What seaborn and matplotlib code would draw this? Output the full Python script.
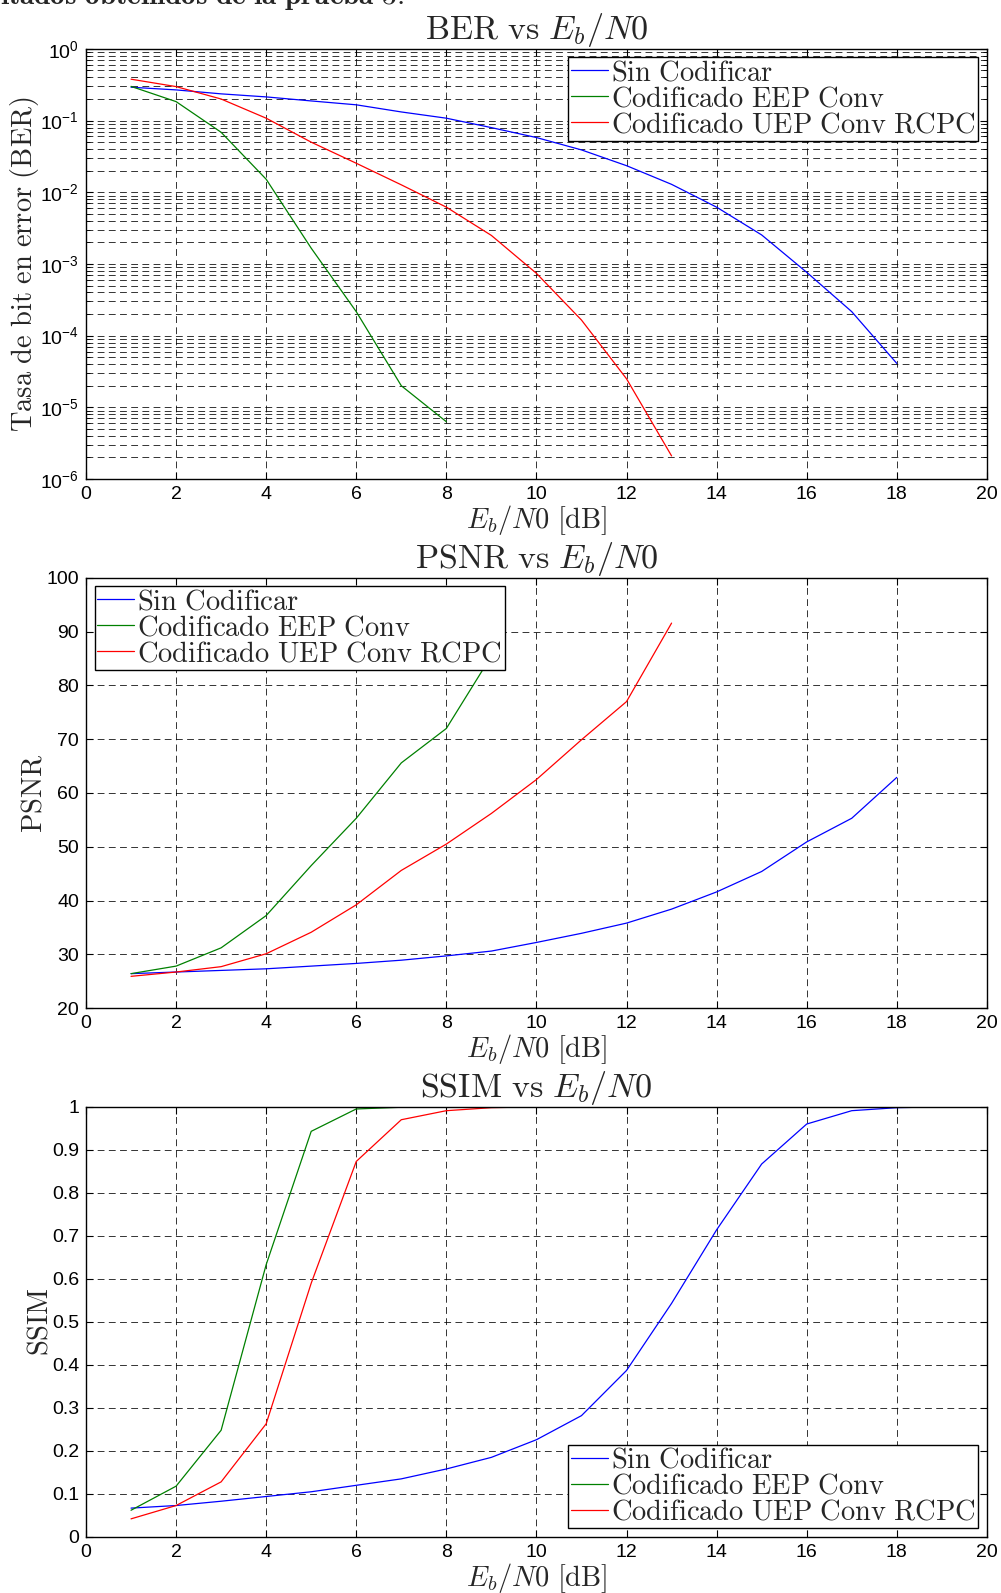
import numpy as np
import pandas as pd
import seaborn as sns
import matplotlib
matplotlib.use('Agg')
import matplotlib.pyplot as plt
from matplotlib.ticker import FormatStrFormatter, LogLocator, NullFormatter

# valores (Eb/N0 en dB)
ebn0_sin = list(range(1, 19))
ebn0_eep = list(range(1, 9))
ebn0_uep = list(range(1, 14))

ber_sin = [0.292, 0.268, 0.236, 0.214, 0.188, 0.166, 0.132, 0.108, 0.0798, 0.058,
           0.039, 0.0235, 0.0129, 0.0062, 0.00254, 0.000765, 0.000216, 0.000041]
ber_eep = [0.300, 0.184, 0.0687, 0.0152, 0.00166, 0.000216, 0.00002, 0.0000063]
ber_uep = [0.378, 0.298, 0.200, 0.108, 0.050, 0.0254, 0.0127, 0.0062, 0.0025,
           0.00074, 0.000165, 0.000025, 0.0000021]

psnr_x_sin = list(range(1, 19))
psnr_x_eep = list(range(1, 10))
psnr_x_uep = list(range(1, 14))
psnr_sin = [26.4, 26.7, 27.0, 27.3, 27.8, 28.3, 28.9, 29.7, 30.6, 32.2, 33.9, 35.8,
            38.4, 41.6, 45.4, 50.9, 55.3, 62.9]
psnr_eep = [26.4, 27.8, 31.2, 37.2, 46.5, 55.3, 65.6, 72.0, 85.5]
psnr_uep = [25.9, 26.7, 27.7, 30.1, 34.1, 39.2, 45.6, 50.5, 56.2, 62.5, 69.9, 77.0, 91.6]

ssim_x = list(range(1, 21))
ssim_sin = [0.067, 0.073, 0.083, 0.094, 0.105, 0.120, 0.135, 0.158, 0.185, 0.226,
            0.282, 0.387, 0.543, 0.714, 0.867, 0.960, 0.991, 0.998, 1.0, 1.0]
ssim_eep = [0.062, 0.118, 0.248, 0.633, 0.943, 0.995, 0.999, 1.0, 1.0, 1.0,
            1.0, 1.0, 1.0, 1.0, 1.0, 1.0, 1.0, 1.0, 1.0, 1.0]
ssim_uep = [0.042, 0.073, 0.128, 0.263, 0.59, 0.873, 0.970, 0.991, 0.998, 1.0,
            1.0, 1.0, 1.0, 1.0, 1.0, 1.0, 1.0, 1.0, 1.0, 1.0]

labels = [r'$\mathrm{Sin\ Codificar}$', r'$\mathrm{Codificado\ EEP\ Conv}$',
          r'$\mathrm{Codificado\ UEP\ Conv\ RCPC}$']
colors = ['#0000ff', '#008000', '#ff0000']
xlabel = r'$E_b/N0\ \mathrm{[dB]}$'

sns.set_style('ticks')
plt.rcParams['font.family'] = ['Liberation Sans', 'DejaVu Sans']
plt.rcParams['mathtext.fontset'] = 'cm'
plt.rcParams['xtick.direction'] = 'in'
plt.rcParams['ytick.direction'] = 'in'
plt.rcParams['xtick.top'] = True
plt.rcParams['ytick.right'] = True
plt.rcParams['xtick.labelsize'] = 14
plt.rcParams['ytick.labelsize'] = 14
plt.rcParams['axes.edgecolor'] = 'k'
plt.rcParams['axes.linewidth'] = 1.0


def style_axes(ax, title, ylabel, leg_loc):
    ax.set_xlim(0, 20)
    ax.set_xticks(range(0, 21, 2))
    ax.set_title(title, fontsize=24.5, pad=3)
    ax.set_xlabel(xlabel, fontsize=20.5, labelpad=0)
    ax.set_ylabel(ylabel, fontsize=20.5, labelpad=-1)
    ax.tick_params(which='both', color='k', labelcolor='k')
    ax.tick_params(which='major', length=5, width=0.8, pad=5)
    ax.tick_params(which='minor', length=3, width=0.6)
    ax.grid(True, which='major', color='k', linestyle=(0, (7, 4.5)), linewidth=0.7, alpha=0.8)
    leg = ax.legend(loc=leg_loc, fancybox=False, edgecolor='k', framealpha=1,
                    fontsize=20.5, handlelength=1.3, handletextpad=0.1,
                    labelspacing=0.0, borderpad=0.1, borderaxespad=0.3)
    leg.get_frame().set_linewidth(1.0)


def draw(ax, xs, ys):
    for x, y, c, lab in zip(xs, ys, colors, labels):
        sns.lineplot(x=x, y=y, color=c, label=lab, ax=ax, linewidth=0.9)


fig = plt.figure(figsize=(10.01, 15.93), dpi=100)
ax1 = fig.add_axes([0.0859, 0.6993, 0.900, 0.270])
ax2 = fig.add_axes([0.0859, 0.3672, 0.900, 0.270])
ax3 = fig.add_axes([0.0859, 0.0352, 0.900, 0.270])

# BER
draw(ax1, [ebn0_sin, ebn0_eep, ebn0_uep], [ber_sin, ber_eep, ber_uep])
ax1.set_yscale('log')
ax1.set_ylim(1e-6, 1)
ax1.yaxis.set_major_locator(LogLocator(base=10, numticks=10))
ax1.yaxis.set_minor_locator(LogLocator(base=10, subs=np.arange(2, 10), numticks=20))
ax1.yaxis.set_minor_formatter(NullFormatter())
style_axes(ax1, r'$\mathrm{BER\ vs\ }E_b/N0$', r'$\mathrm{Tasa\ de\ bit\ en\ error\ (BER)}$', 'upper right')
ax1.grid(True, which='minor', axis='y', color='k', linestyle=(0, (7, 4.5)), linewidth=0.7, alpha=0.8)

# PSNR
draw(ax2, [psnr_x_sin, psnr_x_eep, psnr_x_uep], [psnr_sin, psnr_eep, psnr_uep])
ax2.set_ylim(20, 100)
ax2.set_yticks(range(20, 101, 10))
style_axes(ax2, r'$\mathrm{PSNR\ vs\ }E_b/N0$', r'$\mathrm{PSNR}$', 'upper left')

# SSIM
draw(ax3, [ssim_x, ssim_x, ssim_x], [ssim_sin, ssim_eep, ssim_uep])
ax3.set_ylim(0, 1)
ax3.set_yticks(np.arange(0, 1.01, 0.1))
ax3.yaxis.set_major_formatter(FormatStrFormatter('%g'))
style_axes(ax3, r'$\mathrm{SSIM\ vs\ }E_b/N0$', r'$\mathrm{SSIM}$', 'lower right')

# texto del documento cortado arriba
fig.text(0.0, 1 - 4 / 1593, r'$\mathbf{ltados\ obtenidos\ de\ la\ prueba\ 3.}$',
         fontsize=21, va='baseline')

fig.savefig('out.png', dpi=100)
